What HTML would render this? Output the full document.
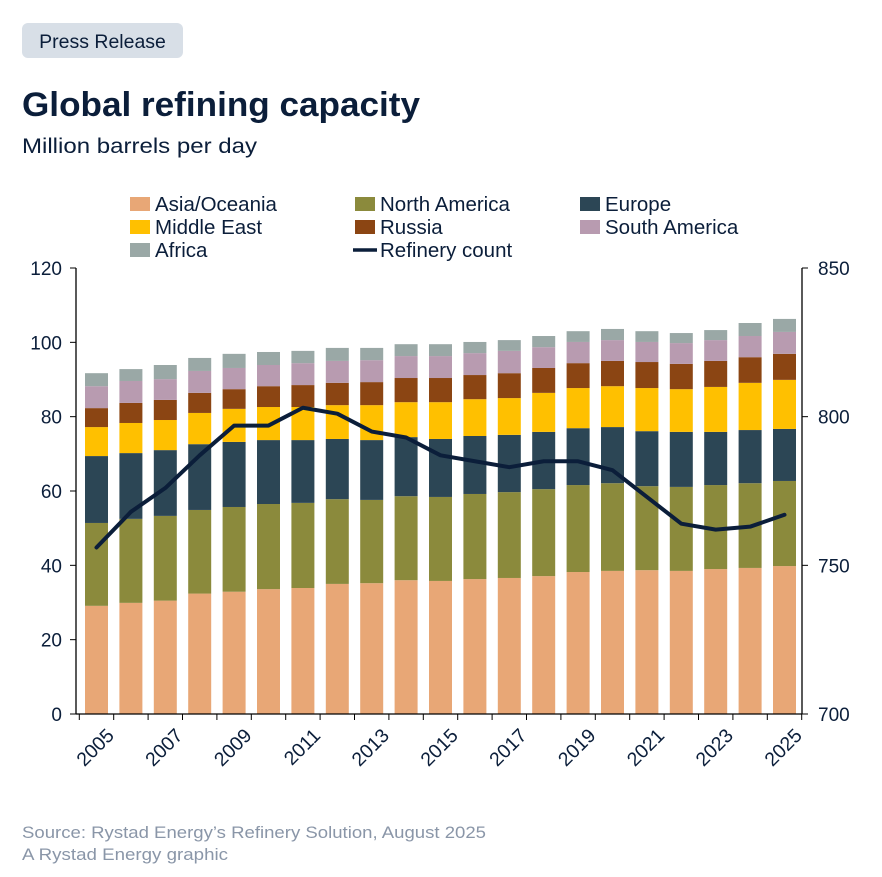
<!DOCTYPE html>
<html><head><meta charset="utf-8"><style>
body{margin:0;background:#fff;font-family:"Liberation Sans",sans-serif;}
#wrap{position:relative;width:882px;height:877px;overflow:hidden;}
</style></head><body>
<div id="wrap">
<svg id="svg" width="882" height="877">
<rect x="22" y="23" width="161" height="35" rx="6" fill="#d8dfe7"/>
<text x="102.5" y="48" text-anchor="middle" font-size="19.5" fill="#0b1e3a">Press Release</text>
<text x="22" y="116" font-size="34" font-weight="bold" fill="#0b1e3a" textLength="398" lengthAdjust="spacingAndGlyphs">Global refining capacity</text>
<text x="22" y="153" font-size="21" fill="#0b1e3a" textLength="235" lengthAdjust="spacingAndGlyphs">Million barrels per day</text>
<g id="legend"></g>
<g id="bars"></g>
<g id="axes"></g>
<text x="22" y="838" font-size="17" fill="#8a96a8" textLength="464" lengthAdjust="spacingAndGlyphs">Source: Rystad Energy’s Refinery Solution, August 2025</text>
<text x="22" y="860" font-size="17" fill="#8a96a8" textLength="206" lengthAdjust="spacingAndGlyphs">A Rystad Energy graphic</text>
</svg>
</div>
<script>
const years=[2005,2006,2007,2008,2009,2010,2011,2012,2013,2014,2015,2016,2017,2018,2019,2020,2021,2022,2023,2024,2025];
const asia=[29.1,29.9,30.5,32.4,32.9,33.6,33.9,35.0,35.2,36.0,35.8,36.3,36.6,37.1,38.2,38.5,38.7,38.5,39.0,39.3,39.8];
const northAmerica=[22.3,22.6,22.8,22.5,22.8,22.9,22.9,22.8,22.4,22.6,22.6,22.9,23.1,23.4,23.4,23.6,22.6,22.6,22.6,22.8,22.9];
const europe=[18.0,17.7,17.7,17.7,17.5,17.2,16.9,16.2,16.1,15.9,15.6,15.6,15.4,15.4,15.3,15.1,14.8,14.8,14.3,14.3,14.0];
const middleEast=[7.8,8.1,8.1,8.4,8.9,8.9,8.9,9.1,9.4,9.4,9.9,9.9,9.9,10.5,10.8,11.0,11.6,11.5,12.1,12.7,13.2];
const russia=[5.1,5.4,5.4,5.4,5.3,5.6,5.9,6.0,6.2,6.5,6.5,6.5,6.7,6.7,6.7,6.8,7.0,6.8,7.0,6.9,7.0];
const southAmerica=[5.9,5.9,5.6,5.9,5.7,5.7,5.9,5.9,5.9,5.9,5.9,5.9,6.0,5.6,5.7,5.6,5.4,5.6,5.6,5.7,5.9];
const africa=[3.5,3.2,3.8,3.5,3.8,3.5,3.3,3.5,3.3,3.2,3.2,3.0,2.9,3.0,2.9,3.0,2.9,2.7,2.7,3.5,3.5];
const refineryCount=[756,768,776,787,797,797,803,801,795,793,787,785,783,785,785,782,773,764,762,763,767];
const leftTicks=[0,20,40,60,80,100,120];
const rightTicks=[700,750,800,850];
const seriesNames=["Asia/Oceania","North America","Europe","Middle East","Russia","South America","Africa"];
const seriesData=[asia,northAmerica,europe,middleEast,russia,southAmerica,africa];
const colors=["#e8a776","#8b8a3c","#2c4655","#ffc000","#8b4513","#b89bb0","#9aa8a6"];
const NS="http://www.w3.org/2000/svg";
const X0=76,X1=802,Y0=714,Y1=268;
const yL=v=>Y0-(v-0)/120*(Y0-Y1);
const yR=v=>Y0-(v-700)/150*(Y0-Y1);
const xC=i=>96.5+i*(784.5-96.5)/(years.length-1);
const bw=23;
function mk(tag,attrs,parent){const e=document.createElementNS(NS,tag);for(const k in attrs)e.setAttribute(k,attrs[k]);parent.appendChild(e);return e;}
const bars=document.getElementById('bars'),axes=document.getElementById('axes'),legend=document.getElementById('legend');
years.forEach((yr,i)=>{let cum=0;seriesData.forEach((s,j)=>{const b=cum;cum+=s[i];
const r=mk('rect',{x:xC(i)-bw/2,y:yL(cum),width:bw,height:yL(b)-yL(cum),fill:colors[j]},bars);

});});
const pts=refineryCount.map((v,i)=>xC(i)+','+yR(v)).join(' ');
const pl=mk('polyline',{points:pts,fill:'none',stroke:'#0b1e3a','stroke-width':4,'stroke-linejoin':'round','stroke-linecap':'round'},bars);


mk('line',{x1:X0,y1:Y1,x2:X0,y2:Y0,stroke:'#000','stroke-width':1.3},axes);
mk('line',{x1:X1,y1:Y1,x2:X1,y2:Y0,stroke:'#000','stroke-width':1.3},axes);
mk('line',{x1:X0,y1:Y0,x2:X1,y2:Y0,stroke:'#000','stroke-width':1.3},axes);
leftTicks.forEach(v=>{mk('line',{x1:X0-6,y1:yL(v),x2:X0,y2:yL(v),stroke:'#000'},axes);
const t=mk('text',{x:62,y:yL(v)+7,'text-anchor':'end','font-size':19,fill:'#0b1e3a'},axes);t.textContent=v;

});
rightTicks.forEach(v=>{mk('line',{x1:X1,y1:yR(v),x2:X1+6,y2:yR(v),stroke:'#000'},axes);
const t=mk('text',{x:818,y:yR(v)+7,'font-size':19,fill:'#0b1e3a'},axes);t.textContent=v;

});
const step=(784.5-96.5)/(years.length-1);
for(let i=0;i<=years.length;i++){const x=xC(i)-step/2;mk('line',{x1:x,y1:Y0,x2:x,y2:Y0+6,stroke:'#000'},axes);}
years.forEach((yr,i)=>{if(i%2)return;const x=xC(i)+9,y=Y0+13;
const t=mk('text',{x:x,y:y,'text-anchor':'end','font-size':19.5,fill:'#0b1e3a',transform:`rotate(-45 ${x} ${y})`,dy:'0.7em'},axes);t.textContent=yr;

});
const legItems=seriesNames.concat(["Refinery count"]);
legItems.forEach((n,k)=>{const col=k%3,row=Math.floor(k/3);const x=[130,355,580][col],y=204+row*23;
const g=mk('g',{},legend);


if(k<7)mk('rect',{x:x,y:y-7,width:20,height:14,fill:colors[k]},g);
else mk('line',{x1:x-2,y1:y,x2:x+22,y2:y,stroke:'#0b1e3a','stroke-width':3.5},g);
const t=mk('text',{x:x+25,y:y+7,'font-size':20.5,fill:'#0b1e3a'},g);t.textContent=n;});
</script>
</body></html>
